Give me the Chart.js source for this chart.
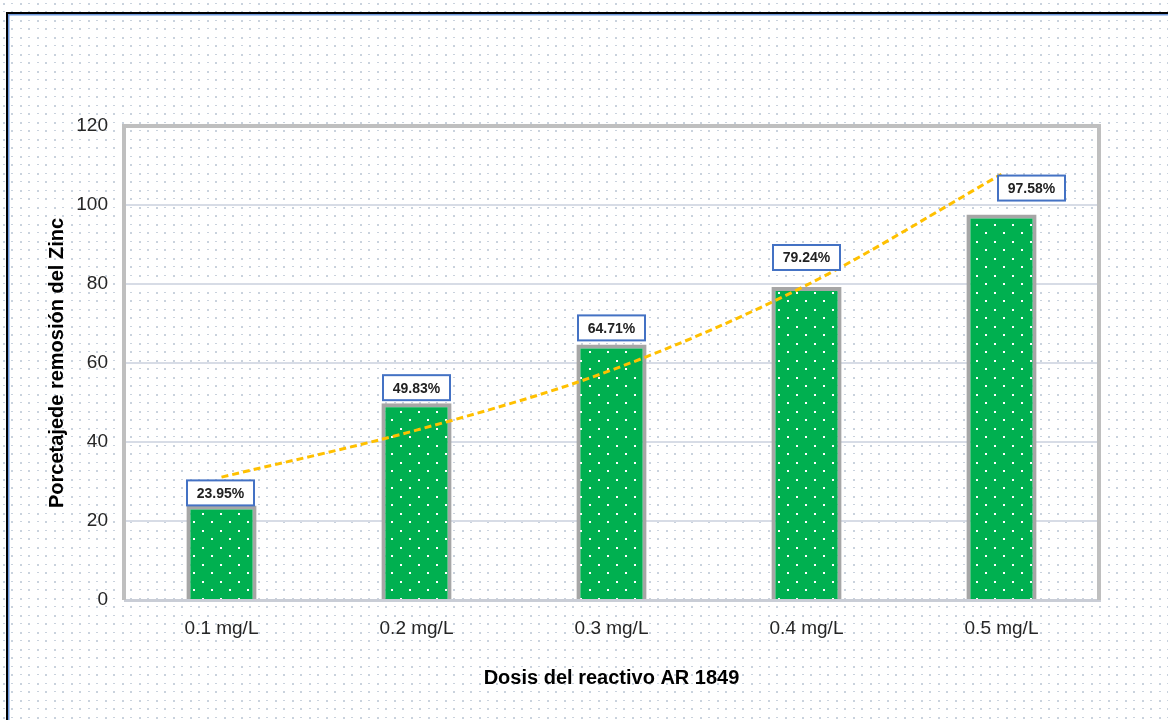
<!DOCTYPE html>
<html>
<head>
<meta charset="utf-8">
<script src="https://cdn.jsdelivr.net/npm/chart.js@4.4.0/dist/chart.umd.min.js"></script>
<style>
  html, body { margin: 0; padding: 0; background: #fff; overflow: hidden; }
  canvas { display: block; }
</style>
</head>
<body>
<canvas id="chart" width="1168" height="720"></canvas>
<script>
// --- Data ---
const doseLabels = ['0.1 mg/L', '0.2 mg/L', '0.3 mg/L', '0.4 mg/L', '0.5 mg/L'];
const removalPct = [23.95, 49.83, 64.71, 79.24, 97.58];
const trendValues = [31.1, 43.0, 58.2, 79.7, 107.8];
const yTicks = [0, 20, 40, 60, 80, 100, 120];

// label box nudges (px) relative to bar top centre
const labelNudge = [[-1, 0], [0, -3], [0, -4], [0, -17], [30, -14]];

// --- Patterns ---
function makePattern(w, h, bg, dot, spots) {
    const c = document.createElement('canvas');
    c.width = w; c.height = h;
    const g = c.getContext('2d');
    if (bg) { g.fillStyle = bg; g.fillRect(0, 0, w, h); }
    g.fillStyle = dot;
    spots.forEach(s => g.fillRect(s[0], s[1], s[2] || 2, s[3] || 2));
    return document.getElementById('chart').getContext('2d').createPattern(c, 'repeat');
}
const pageDots = makePattern(17, 17, '#ffffff', '#c9d2dd', [[3, 3], [11, 3, 2, 1], [3, 11, 2, 1], [11, 11]]);
const barDots = makePattern(18, 17, '#00b050', '#ffffff', [[4, 3], [13, 11]]);

const FONT = '"Liberation Sans", Arial, sans-serif';

// --- Plugins ---
const backdrop = {
    id: 'backdrop',
    beforeDraw(chart) {
        const ctx = chart.ctx;
        ctx.save();
        ctx.fillStyle = pageDots;
        ctx.fillRect(0, 0, chart.width, chart.height);
        // outer frame (black + blue inner line)
        ctx.strokeStyle = '#000';
        ctx.lineWidth = 2;
        ctx.beginPath();
        ctx.moveTo(7, chart.height + 5); ctx.lineTo(7, 13); ctx.lineTo(chart.width + 5, 13);
        ctx.stroke();
        ctx.strokeStyle = '#6d97db';
        ctx.lineWidth = 1.5;
        ctx.beginPath();
        ctx.moveTo(8.75, chart.height + 5); ctx.lineTo(8.75, 14.75); ctx.lineTo(chart.width + 5, 14.75);
        ctx.stroke();
        ctx.restore();
    },
    beforeDatasetsDraw(chart) {
        const { ctx, chartArea: a } = chart;
        ctx.save();
        ctx.strokeStyle = '#c9cdd6';
        ctx.lineWidth = 3;
        ctx.beginPath();
        ctx.moveTo(a.left, a.bottom + 0.5); ctx.lineTo(a.right + 2, a.bottom + 0.5);
        ctx.stroke();
        ctx.strokeStyle = '#bfbfbf';
        ctx.lineWidth = 4;
        ctx.beginPath();
        ctx.moveTo(a.left, a.bottom); ctx.lineTo(a.left, a.top); ctx.lineTo(a.right, a.top); ctx.lineTo(a.right, a.bottom);
        ctx.stroke();
        ctx.restore();
    },
    afterDatasetsDraw(chart) {
        const ctx = chart.ctx;
        const bars = chart.getDatasetMeta(1).data;
        ctx.save();
        ctx.font = 'bold 14px ' + FONT;
        ctx.textAlign = 'center';
        ctx.textBaseline = 'middle';
        bars.forEach((bar, i) => {
            const w = 67, h = 25;
            const cx = bar.x + labelNudge[i][0];
            const bottom = bar.y + labelNudge[i][1];
            ctx.fillStyle = '#fff';
            ctx.fillRect(cx - w / 2, bottom - h, w, h);
            ctx.strokeStyle = '#4472c4';
            ctx.lineWidth = 2;
            ctx.strokeRect(cx - w / 2, bottom - h, w, h);
            ctx.fillStyle = '#222';
            ctx.fillText(removalPct[i].toFixed(2) + '%', cx, bottom - h / 2 + 1);
        });
        ctx.restore();
    }
};

// --- Chart ---
new Chart(document.getElementById('chart'), {
    data: {
        labels: doseLabels,
        datasets: [
            {
                type: 'line',
                label: 'Tendencia',
                data: trendValues,
                borderColor: '#ffc000',
                borderWidth: 3,
                borderDash: [7, 4],
                pointRadius: 0,
                tension: 0.4,
                cubicInterpolationMode: 'monotone',
                order: 0
            },
            {
                type: 'bar',
                label: 'Remoción',
                data: removalPct,
                backgroundColor: barDots,
                borderColor: '#a6a6a6',
                borderWidth: 4,
                borderSkipped: 'bottom',
                barPercentage: 0.36,
                categoryPercentage: 1,
                order: 1
            }
        ]
    },
    options: {
        responsive: false,
        devicePixelRatio: 1,
        animation: false,
        layout: { padding: { top: 126, right: 69, bottom: 20, left: 40 } },
        plugins: { legend: { display: false }, tooltip: { enabled: false } },
        scales: {
            x: {
                grid: { display: false, drawTicks: false },
                border: { display: false },
                ticks: { padding: 17, color: '#262626', font: { family: FONT, size: 19 } },
                title: {
                    display: true,
                    text: 'Dosis del reactivo AR 1849',
                    color: '#000',
                    font: { family: FONT, size: 20, weight: 'bold' },
                    padding: { top: 0, bottom: 10 }
                },
                afterFit(scale) { scale.height = 100; }
            },
            y: {
                min: 0,
                max: 120,
                afterBuildTicks(scale) { scale.ticks = yTicks.map(v => ({ value: v })); },
                grid: {
                    color: ctx => (ctx.tick && (ctx.tick.value === 0 || ctx.tick.value === 120) ? 'rgba(0,0,0,0)' : '#d7dce6'),
                    lineWidth: 2,
                    drawTicks: false
                },
                border: { display: false },
                ticks: { padding: 16, color: '#262626', font: { family: FONT, size: 19 } },
                title: {
                    display: true,
                    text: 'Porcetajede remosión del Zinc',
                    color: '#000',
                    font: { family: FONT, size: 20, weight: 'bold' },
                    padding: { top: 5, bottom: 0 }
                },
                afterFit(scale) { scale.width = 84; }
            }
        }
    },
    plugins: [backdrop]
});
</script>
</body>
</html>
